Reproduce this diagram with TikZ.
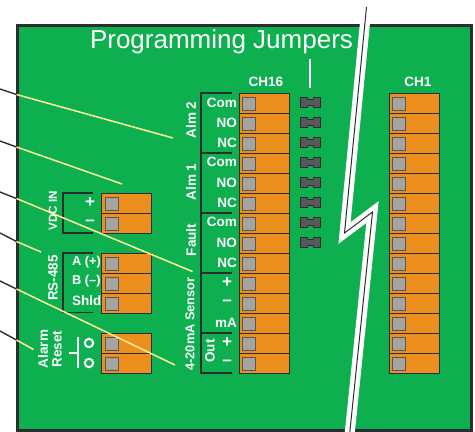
\documentclass[tikz,border=0pt]{standalone}
\usepackage{fontspec}
\setmainfont{Liberation Sans}
\definecolor{board}{RGB}{13, 175, 78}
\definecolor{edge}{RGB}{45, 45, 48}
\definecolor{term}{RGB}{236, 143, 31}
\definecolor{pin}{RGB}{166, 164, 158}
\definecolor{lead}{RGB}{255, 242, 154}
\definecolor{jump}{RGB}{88, 88, 90}
\tikzset{
	termcell/.style={draw=edge,fill=term,line width=0.9pt,rectangle,anchor=north west,inner sep=0pt,outer sep=0pt,minimum width=50pt,minimum height=20pt},
	pinsq/.style={draw=edge!80,fill=pin,line width=0.9pt,rectangle,anchor=north west,inner sep=0pt,outer sep=0pt,minimum width=13.5pt,minimum height=13.5pt},
	lbl/.style={text=white,font=\fontsize{13.5}{14}\selectfont\bfseries,inner sep=0pt},
	lblsign/.style={lbl,font=\fontsize{17}{18}\selectfont\bfseries},
	lblr/.style={lbl,anchor=east},
	lbll/.style={lbl,anchor=west},
	lblv/.style={lbl,rotate=90},
	bracket/.style={draw=edge,line width=1.3pt},
	leadblack/.style={draw=edge,line width=1.4pt},
	leadyellow/.style={draw=lead,line width=1.5pt},
}
\begin{document}
\begin{tikzpicture}[x=1pt,y=-1pt]
	\useasboundingbox (0,0) rectangle (475,432);
	\draw[edge,fill=board,line width=2.5pt] (17.3,25.3) rectangle (471.7,430.7); % the board
	% long terminal strips
	\foreach \r in {0,...,13}{
		\node[termcell] (lcell\r) at (239,{93+20*\r}) {};
		\node[pinsq] (lpin\r) at (242,{97+20*\r}) {};
		\node[termcell] (rcell\r) at (389,{93+20*\r}) {};
		\node[pinsq] (rpin\r) at (392,{97+20*\r}) {};
	}
	% short terminal strips
	\foreach \y/\n in {193/a,213/b,253/c,273/d,293/e,333/f,353/g}{
		\node[termcell] (cell\n) at (101,\y) {};
		\node[pinsq] (pin\n) at (105,\y+4) {};
	}
	% jumpers
	\foreach \r in {0,...,7}{
		\draw[edge,fill=jump,line width=0.8pt,shift={(300.5,{97.5+20*\r})}] (0,0)--(7,0)--(7.5,2)--(12.5,2)--(13,0)--(20,0)--(20,10)--(13,10)--(12.5,8)--(7.5,8)--(7,10)--(0,10)--cycle;
	}
	% brackets
	\draw[bracket] (232,93)--(201,93)--(201,373)--(232,373);
	\foreach \y in {153,213,273,333}{
		\draw[bracket] (201,\y)--(232,\y);
	}
	\draw[bracket] (93,193)--(63,193)--(63,233)--(93,233);
	\draw[bracket] (93,253)--(63,253)--(63,312.5)--(93,312.5);
	% labels
	\node[text=white,font=\fontsize{26}{28}\selectfont] (title) at (221.5,42) {Programming Jumpers};
	\draw[white,line width=1.3pt] (310,59)--(310,88);
	\node[lbl] (chsixteen) at (266,82) {CH16};
	\node[lbl] (chone) at (418,82) {CH1};
	\foreach \y/\t/\n in {103/Com/a,123/NO/b,143/NC/c,162/Com/d,183/NO/e,203/NC/f,222/Com/g,243/NO/h,263/NC/i,323/mA/j}{
		\node[lblr] (row\n) at (237,\y) {\t};
	}
	\foreach \y/\t/\n in {283/+/k,303/--/l,343/+/m,363/--/n}{
		\node[lblsign] (row\n) at (227,\y) {\t};
	}
	\node[lblv] (almtwo) at (191,120) {Alm 2};
	\node[lblv] (almone) at (191,182) {Alm 1};
	\node[lblv] (fault) at (191,240) {Fault};
	\node[lblv,font=\fontsize{12.8}{14}\selectfont\bfseries] (sensor) at (190,324) {4-20mA Sensor};
	\node[lblv] (out) at (210,351) {Out};
	\node[lblv,font=\fontsize{11.6}{14}\selectfont\bfseries] (vdc) at (53,211) {VDC IN};
	\node[lblsign] (vplus) at (90,203) {+};
	\node[lblsign] (vminus) at (90,223) {--};
	\node[lblv] (rs) at (53,278) {RS-485};
	\node[lbll,font=\fontsize{12.8}{14}\selectfont\bfseries] (rsa) at (72,262) {A (+)};
	\node[lbll,font=\fontsize{12.8}{14}\selectfont\bfseries] (rsb) at (72,281) {B (--)};
	\node[lbll] (rss) at (72,301) {Shld};
	\node[lblv] (alarm) at (43,349) {Alarm};
	\node[lblv] (reset) at (57,349) {Reset};
	% reset switch
	\draw[white,line width=1.5pt] (78,337)--(78,368) (69,353)--(78,353);
	\draw[white,line width=2pt] (89,343) circle (4.2) (89,363) circle (4.2);
	% leaders
	\foreach \n/\ya/\yb/\xc/\yc in {a/89/94.5/173/138,b/141/147/122/184,c/192/198.5/192.5/271.5,d/233/241.5/41/252,e/281/289/175/365,f/331/340/33.5/349.5}{
		\coordinate (out\n) at (0,\ya);
		\coordinate (mid\n) at (16.5,\yb);
		\coordinate (end\n) at (\xc,\yc);
		\draw[leadblack] (out\n)--(mid\n);
		\draw[leadyellow] (mid\n)--(end\n);
	}
	% break
	\draw[white,line width=10pt,miter limit=10] (366.5,7)--(344.5,233)--(372.5,212)--(349,440);
	\draw[edge,line width=1pt,miter limit=10] (366.5,7)--(344.5,233)--(372.5,212)--(349,440);
\end{tikzpicture}
\end{document}
